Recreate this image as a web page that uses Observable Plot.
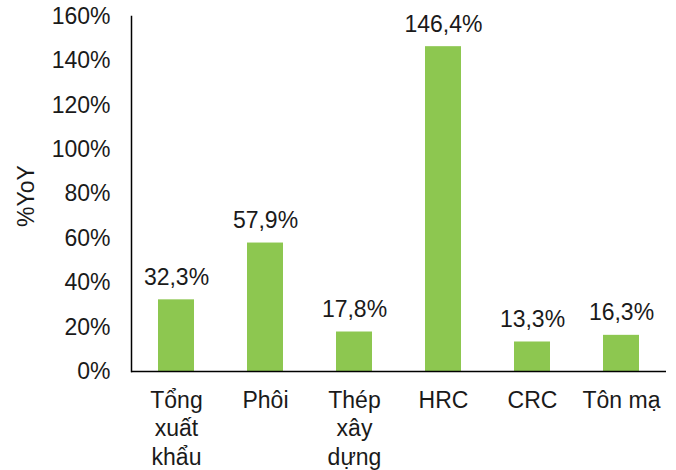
<!DOCTYPE html>
<html><head><meta charset="utf-8">
<script src="https://cdn.jsdelivr.net/npm/d3@7"></script>
<script src="https://cdn.jsdelivr.net/npm/@observablehq/plot@0.6"></script>
<style>body{margin:0;background:#fff;font-family:"Liberation Sans",Arial,sans-serif}</style>
</head><body><div id="chart"></div>
<script>
const categories = ["Tổng\nxuất\nkhẩu", "Phôi", "Thép\nxây\ndựng", "HRC", "CRC", "Tôn mạ"];
const values = [32.3, 57.9, 17.8, 146.4, 13.3, 16.3];
const valueLabels = ["32,3%", "57,9%", "17,8%", "146,4%", "13,3%", "16,3%"];
const yTicks = [0, 20, 40, 60, 80, 100, 120, 140, 160];
const data = categories.map((c, i) => ({cat: c, v: values[i], label: valueLabels[i]}));

const chart = Plot.plot({
  width: 676, height: 470,
  marginLeft: 131, marginRight: 10, marginTop: 16, marginBottom: 99,
  style: {fontFamily: "'Liberation Sans', Arial, sans-serif", fontSize: "23px", color: "#1a1a1a", background: "#fff"},
  x: {domain: categories, paddingInner: 0.6, paddingOuter: 0.3, label: null},
  y: {domain: [0, 160], label: null},
  marks: [
    Plot.barY(data, {x: "cat", y: "v", fill: "#8DC750"}),
    Plot.text(data, {x: "cat", y: "v", text: "label", dy: -15, lineAnchor: "bottom", fontSize: 23, fill: "#1a1a1a"}),
    Plot.axisY({ticks: yTicks, tickSize: 0, tickPadding: 21, tickFormat: d => d + "%", fontSize: 23}),
    Plot.axisX({tickSize: 0, tickPadding: 17, lineHeight: 1.22, fontSize: 23}),
    Plot.ruleY([0], {stroke: "#000", strokeWidth: 1.5}),
    Plot.frame({anchor: "left", stroke: "#000", strokeWidth: 1.5}),
    Plot.text(["%YoY"], {frameAnchor: "left", textAnchor: "middle", dx: -105, dy: 2, rotate: -90, fontSize: 23, fill: "#1a1a1a"})
  ]
});
document.getElementById("chart").appendChild(chart);
</script></body></html>
